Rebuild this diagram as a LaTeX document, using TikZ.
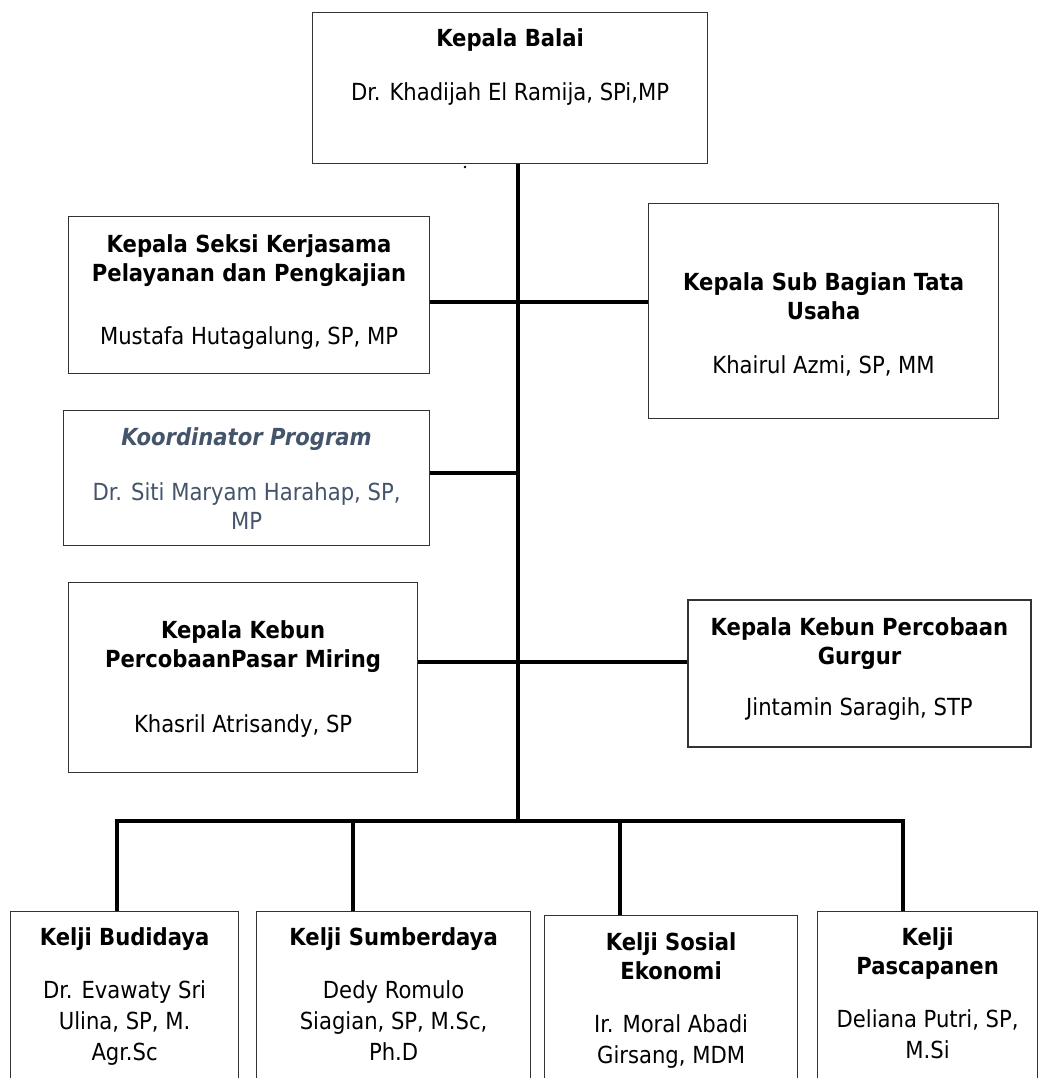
\documentclass[tikz,border=0pt]{standalone}
\usepackage{fontspec}
\setmainfont{DejaVu Sans Condensed}
\usetikzlibrary{positioning}
\definecolor{slate}{RGB}{68,84,106}
\begin{document}
\begin{tikzpicture}[x=1pt, y=-1pt, font=\fontsize{23.5}{29}\selectfont, line join=miter]
	\tikzset{kotak/.style 2 args={draw=black!80, line width=1.2pt, fill=white, minimum width=#1, minimum height=#2, anchor=north west, inner sep=0pt},
		isi/.style={align=center, inner sep=0pt},
		garis/.style={line width=3.5pt}}
	\useasboundingbox (0,0) rectangle (1045,1078);
	\clip (0,0) rectangle (1045,1078);
	\coordinate (j1) at (518,302);
	\coordinate (j2) at (518,473);
	\coordinate (j3) at (518,662);
	\coordinate (j4) at (518,821);
	\foreach \n/\x in {d1/117,d2/353,d3/620,d4/903} \coordinate (\n) at (\x,821);
	\node[kotak={395pt}{151pt}] (kb) at (312,12) {};
	\node[kotak={361pt}{157pt}] (ks) at (68,216) {};
	\node[kotak={350pt}{215pt}] (kt) at (648,203) {};
	\node[kotak={366pt}{135pt}] (kp) at (63,410) {};
	\node[kotak={349pt}{190pt}] (kpm) at (68,582) {};
	\node[kotak={343pt}{147pt}, line width=2pt] (kg) at (687,599) {};
	\node[kotak={228pt}{200pt}] (b1) at (10,911) {};
	\node[kotak={274pt}{200pt}] (b2) at (256,911) {};
	\node[kotak={253pt}{200pt}] (b3) at (544,915) {};
	\node[kotak={220pt}{200pt}] (b4) at (817,911) {};
	\draw[garis] (kb.south -| j4) -- (j4);
	\draw[garis] (ks.east |- j1) -- (kt.west |- j1);
	\draw[garis] (kp.east |- j2) -- (j2);
	\draw[garis] (kpm.east |- j3) -- (kg.west |- j3);
	\draw[garis] (b1.north -| d1) -- (d1) -- (d4) -- (b4.north -| d4);
	\draw[garis] (d2) -- (b2.north -| d2);
	\draw[garis] (d3) -- (b3.north -| d3);
	\fill (465,167) circle (1.3);
	\node[isi, below=16pt of kb.north] (kbt) {\textbf{Kepala Balai}\\[25pt] Dr. Khadijah El Ramija, SPi,MP};
	\node[isi, below=18pt of ks.north] (kst) {\textbf{Kepala Seksi Kerjasama}\\ \textbf{Pelayanan dan Pengkajian}\\[34pt] Mustafa Hutagalung, SP, MP};
	\node[isi, below=69pt of kt.north] (ktt) {\textbf{Kepala Sub Bagian Tata}\\ \textbf{Usaha}\\[25pt] Khairul Azmi, SP, MM};
	\node[isi, text=slate, below=17pt of kp.north] (kpt) {\textbf{\textit{Koordinator Program}}\\[26pt] Dr. Siti Maryam Harahap, SP,\\ MP};
	\node[isi, below=38pt of kpm.north] (kpmt) {\textbf{Kepala Kebun}\\ \textbf{PercobaanPasar Miring}\\[36pt] Khasril Atrisandy, SP};
	\node[isi, below=18pt of kg.north] (kgt) {\textbf{Kepala Kebun Percobaan}\\ \textbf{Gurgur}\\[22pt] Jintamin Saragih, STP};
	\node[isi, below=16pt of b1.north] (b1t) {\textbf{Kelji Budidaya}\\[24pt] Dr. Evawaty Sri\\[2pt] Ulina, SP, M.\\[2pt] Agr.Sc};
	\node[isi, below=16pt of b2.north] (b2t) {\textbf{Kelji Sumberdaya}\\[24pt] Dedy Romulo\\[2pt] Siagian, SP, M.Sc,\\[2pt] Ph.D};
	\node[isi, below=17pt of b3.north] (b3t) {\textbf{Kelji Sosial}\\ \textbf{Ekonomi}\\[24pt] Ir. Moral Abadi\\[2pt] Girsang, MDM};
	\node[isi, below=16pt of b4.north] (b4t) {\textbf{Kelji}\\ \textbf{Pascapanen}\\[24pt] Deliana Putri, SP,\\[2pt] M.Si};
\end{tikzpicture}
\end{document}
